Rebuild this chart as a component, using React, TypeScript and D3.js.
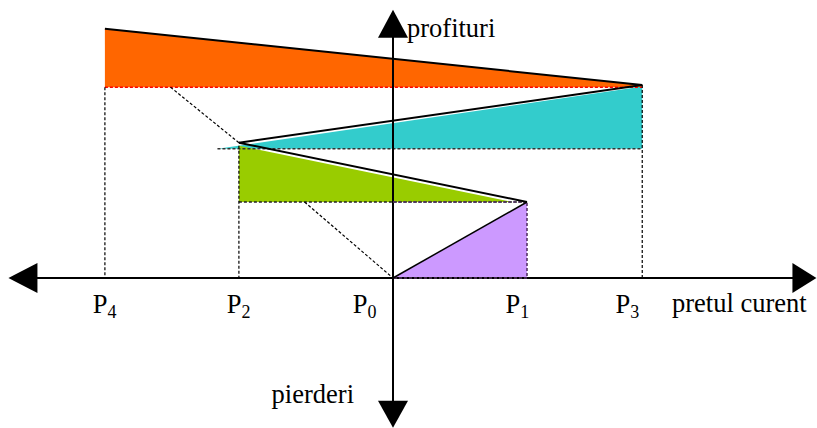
import React from "react";
import * as d3 from "d3";

// price positions (unit = P1 - P0)
const priceNames = ["P4", "P2", "P0", "P1", "P3"];
const priceValues = [-2.15, -1.15, 0, 1, 1.86];
const labelStarts = [-2.24, -1.24, -0.3, 0.84, 1.66];

// profit levels
const levelP1 = 1;
const levelP2 = 1.78;
const levelP3 = 2.54;
const levelP4 = 3.28;
const orangeBase = 2.51;
const tealBase = 1.7;
const tealStart = -1.31;
const greenTop = 1.74;
const greenEnd = 0.89;
const diag1Start = -1.66;
const diag2Start = -0.66;

const axisX = [-2.87, 3.16];
const axisY = [-1.97, 3.53];

const W = 817;
const H = 428;

export default function App() {
  const x = d3.scaleLinear().domain([0, 1]).range([393, 527]);
  const y = d3.scaleLinear().domain([0, 1]).range([278, 202]);
  const [P4, P2, P0, P1, P3] = priceValues;
  const line = d3.line<[number, number]>().x((d) => x(d[0])).y((d) => y(d[1]));
  const poly = (pts: [number, number][]) => line(pts) + "Z";
  const textStyle = { fontFamily: '"Liberation Serif", "Times New Roman", "DejaVu Serif", serif' };
  const dash = "3,2";

  const x0 = x(axisX[0]);
  const x1 = x(axisX[1]);
  const yT = y(axisY[1]);
  const yB = y(axisY[0]);
  const ax = x(0);
  const ay = y(0);

  return (
    <svg width={W} height={H} style={{ position: "absolute", left: 0, top: 0, background: "#fff" }}>
      {/* orange */}
      <path d={poly([[P4, levelP4], [P3, levelP3], [P3, orangeBase], [P4, orangeBase]])} fill="#FF6600" />
      {/* teal */}
      <path d={poly([[tealStart, tealBase], [P3, levelP3 - 0.02], [P3, tealBase]])} fill="#33CCCC" />
      {/* green */}
      <path d={poly([[P2, greenTop], [greenEnd, levelP1], [P2, levelP1]])} fill="#99CC00" />
      {/* purple */}
      <path d={poly([[P0, 0], [P1, levelP1], [P1, 0]])} fill="#CC99FF" />

      {/* dashed guides */}
      <path d={line([[P4, orangeBase], [P3, orangeBase]])!} stroke="#FF0000" strokeWidth={1.5} strokeDasharray={dash} fill="none" />
      <path d={line([[tealStart, tealBase], [P3, tealBase]])!} stroke="#333" strokeWidth={1.5} strokeDasharray={dash} fill="none" />
      <path d={line([[P2, levelP1], [P1, levelP1]])!} stroke="#222" strokeWidth={1.5} strokeDasharray={dash} fill="none" />
      <path d={line([[P4, orangeBase], [P4, 0]])!} stroke="#000" strokeWidth={1.2} strokeDasharray={dash} fill="none" />
      <path d={line([[P2, greenTop], [P2, 0]])!} stroke="#000" strokeWidth={1.2} strokeDasharray={dash} fill="none" />
      <path d={line([[P3, levelP3], [P3, 0]])!} stroke="#000" strokeWidth={1.2} strokeDasharray={dash} fill="none" />
      <path d={line([[diag1Start, orangeBase], [P2, levelP2]])!} stroke="#000" strokeWidth={1.2} strokeDasharray={dash} fill="none" />
      <path d={line([[diag2Start, levelP1], [P0, 0]])!} stroke="#000" strokeWidth={1.2} strokeDasharray={dash} fill="none" />

      {/* axes */}
      <line x1={x0 + 20} y1={ay} x2={x1 - 20} y2={ay} stroke="#000" strokeWidth={2} />
      <line x1={ax} y1={yT + 20} x2={ax} y2={yB - 20} stroke="#000" strokeWidth={2} />
      <path d={`M${x0},${ay} L${x0 + 29},${ay - 15} L${x0 + 29},${ay + 15} Z`} fill="#000" />
      <path d={`M${x1},${ay} L${x1 - 24},${ay - 15} L${x1 - 24},${ay + 15} Z`} fill="#000" />
      <path d={`M${ax},${yT} L${ax - 15},${yT + 28} L${ax + 15},${yT + 28} Z`} fill="#000" />
      <path d={`M${ax},${yB} L${ax - 15},${yB - 27} L${ax + 15},${yB - 27} Z`} fill="#000" />

      {/* purple border over axis */}
      <path d={line([[P0, levelP1], [P1, levelP1], [P1, 0], [P0, 0]])!} stroke="#553366" strokeWidth={1.6} strokeDasharray={dash} fill="none" />

      {/* solid black lines */}
      <path d={line([[P4, levelP4], [P3, levelP3]])!} stroke="#000" strokeWidth={2} fill="none" />
      <path d={line([[P2, levelP2], [P3, levelP3]])!} stroke="#000" strokeWidth={2} fill="none" />
      <path d={line([[P2, levelP2], [P1, levelP1]])!} stroke="#000" strokeWidth={2} fill="none" />
      <path d={line([[P0, 0], [P1, levelP1]])!} stroke="#000" strokeWidth={1.5} fill="none" />

      {/* labels */}
      <g style={textStyle} fontSize={26.5} fill="#000">
        {priceNames.map((n, i) => (
          <text key={n} x={x(labelStarts[i])} y={313}>
            {n[0]}
            <tspan fontSize={18} dy={5}>{n.slice(1)}</tspan>
          </text>
        ))}
        <text x={672} y={312}>pretul curent</text>
        <text x={407} y={37}>profituri</text>
        <text x={354} y={403} textAnchor="end">pierderi</text>
      </g>
    </svg>
  );
}
